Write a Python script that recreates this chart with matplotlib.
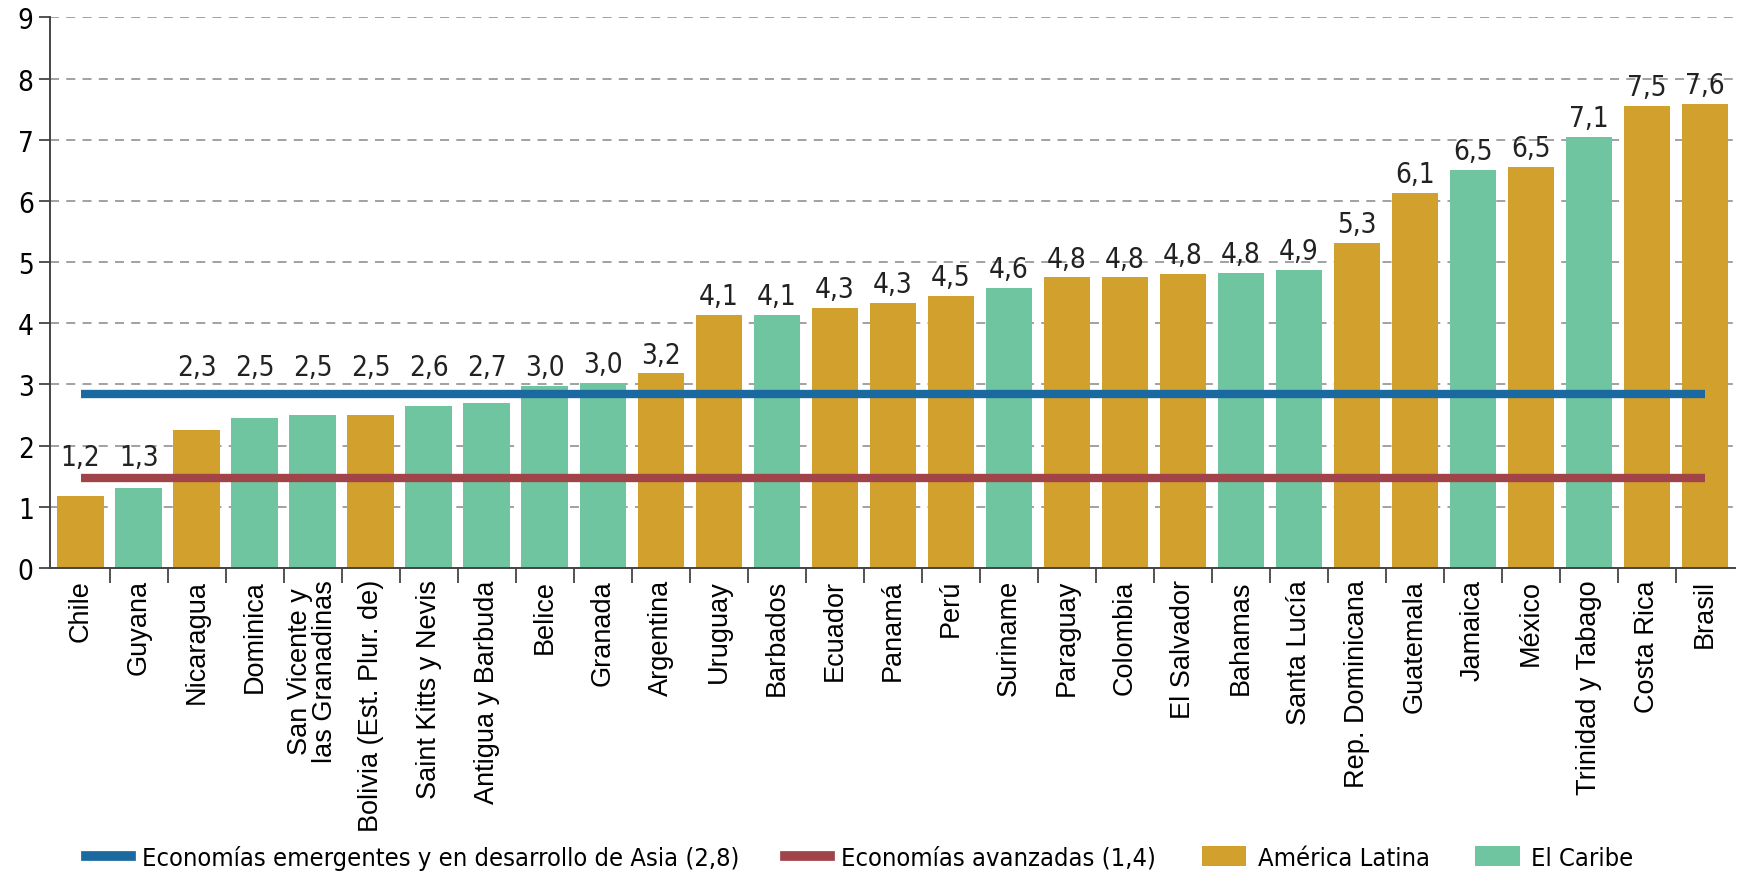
import matplotlib.pyplot as plt
from matplotlib import font_manager as fm
from matplotlib.lines import Line2D
from matplotlib.patches import Patch
import numpy as np

paises = ["Chile", "Guyana", "Nicaragua", "Dominica", "San Vicente y\nlas Granadinas",
          "Bolivia (Est. Plur. de)", "Saint Kitts y Nevis", "Antigua y Barbuda", "Belice",
          "Granada", "Argentina", "Uruguay", "Barbados", "Ecuador", "Panamá", "Perú",
          "Suriname", "Paraguay", "Colombia", "El Salvador", "Bahamas", "Santa Lucía",
          "Rep. Dominicana", "Guatemala", "Jamaica", "México", "Trinidad y Tabago",
          "Costa Rica", "Brasil"]
valores = [1.18, 1.30, 2.25, 2.45, 2.50, 2.50, 2.65, 2.70, 2.98, 3.03, 3.18, 4.13, 4.13,
           4.25, 4.33, 4.45, 4.58, 4.75, 4.75, 4.80, 4.83, 4.87, 5.32, 6.13, 6.50, 6.55,
           7.05, 7.55, 7.58]
etiquetas = ["1,2", "1,3", "2,3", "2,5", "2,5", "2,5", "2,6", "2,7", "3,0", "3,0", "3,2",
             "4,1", "4,1", "4,3", "4,3", "4,5", "4,6", "4,8", "4,8", "4,8", "4,8", "4,9",
             "5,3", "6,1", "6,5", "6,5", "7,1", "7,5", "7,6"]
# L = América Latina, C = El Caribe
grupo = ["L", "C", "L", "C", "C", "L", "C", "C", "C", "C", "L", "L", "C", "L", "L", "L",
         "C", "L", "L", "L", "C", "C", "L", "L", "C", "L", "C", "L", "L"]
asia = 2.85
avanzadas = 1.47

GOLD = "#D2A02C"
GREEN = "#6EC59F"
BLUE = "#1A69A0"
RED = "#A0444A"


def find_narrow():
    # look for any condensed / narrow face that is installed
    prefs = ["Liberation Sans Narrow", "DejaVu Sans Condensed", "Roboto Condensed",
             "Open Sans Condensed", "Noto Sans Condensed"]
    fonts = fm.fontManager.ttflist
    for p in prefs:
        key = p.split()[-1].lower()
        base = " ".join(p.split()[:-1]).lower()
        for f in fonts:
            full = (f.name + " " + str(f.stretch) + " " + f.fname).lower()
            low = f.fname.lower()
            if base in f.name.lower() and key in full and "bold" not in low \
                    and "oblique" not in low and "italic" not in low:
                return f.fname
    return None


path = find_narrow()


def nfont(size):
    if path:
        return fm.FontProperties(fname=path, size=size)
    return fm.FontProperties(family="DejaVu Sans", stretch="condensed", size=size - 3)


fig = plt.figure(figsize=(17.37, 8.78), dpi=100)
ax = fig.add_axes([0.029, 0.352, 0.970, 0.627])

x = np.arange(len(paises))
colores = [GOLD if g == "L" else GREEN for g in grupo]
ax.bar(x, valores, width=0.8, color=colores, zorder=2)

ax.hlines(asia, 0, len(paises) - 1, color=BLUE, linewidth=6, zorder=3, capstyle="butt")
ax.hlines(avanzadas, 0, len(paises) - 1, color=RED, linewidth=6, zorder=3, capstyle="butt")

# value labels go above the reference lines when the bar is below them
for xi, v, t in zip(x, valores, etiquetas):
    if v < avanzadas:
        base = avanzadas + 0.12
    elif v < asia + 0.1:
        base = asia + 0.2
    else:
        base = v + 0.08
    ax.text(xi, base, t, ha="center", va="bottom", fontproperties=nfont(20),
            color="#222222")

ax.set_xlim(-0.52, len(paises) - 0.48)
ax.set_ylim(0, 9)
ax.set_yticks(range(10))
ax.yaxis.grid(True, linestyle=(0, (5, 4)), color="#9a9a9a", linewidth=1.3, zorder=0)
ax.set_axisbelow(True)

ax.set_xticks(x)
ax.set_xticklabels(paises, rotation=90, fontsize=19.5, family="Liberation Sans",
                   linespacing=0.95)
ax.set_xticks(np.arange(len(paises) - 1) + 0.5, minor=True)
ax.tick_params(axis="x", which="major", length=0, pad=8)
ax.tick_params(axis="x", which="minor", length=11, width=1.3, color="#444444")
ax.tick_params(axis="y", length=8, width=1.3, color="#444444", pad=4)
for lab in ax.get_yticklabels():
    lab.set_fontproperties(nfont(20))

for s in ["top", "right"]:
    ax.spines[s].set_visible(False)
for s in ["left", "bottom"]:
    ax.spines[s].set_color("#444444")
    ax.spines[s].set_linewidth(1.4)

handles = [
    Line2D([], [], color=BLUE, linewidth=7),
    Line2D([], [], color=RED, linewidth=7),
    Patch(facecolor=GOLD),
    Patch(facecolor=GREEN),
]
labels = ["Economías emergentes y en desarrollo de Asia (2,8)",
          "Economías avanzadas (1,4)", "América Latina", "El Caribe"]
fig.legend(handles, labels, loc="lower center", bbox_to_anchor=(0.495, -0.018), ncol=4,
           frameon=False, prop=nfont(18.3), handlelength=1.75,
           handleheight=0.8, columnspacing=1.8, handletextpad=0.45)

fig.savefig("out.png", dpi=100)
